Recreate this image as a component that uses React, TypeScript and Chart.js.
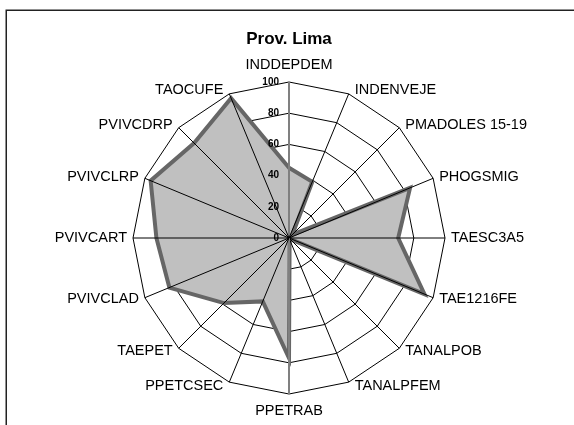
import React, { useEffect, useRef } from 'react';
import { Chart, registerables } from 'chart.js';

Chart.register(...registerables);

const categories = [
  'INDDEPDEM', 'INDENVEJE', 'PMADOLES 15-19', 'PHOGSMIG', 'TAESC3A5', 'TAE1216FE',
  'TANALPOB', 'TANALPFEM', 'PPETRAB', 'PPETCSEC', 'TAEPET', 'PVIVCLAD',
  'PVIVCART', 'PVIVCLRP', 'PVIVCDRP', 'TAOCUFE',
];
const values = [45, 39, 3, 84, 70, 94, 1, 1, 77, 44, 59, 83, 85, 96, 86, 97];
const tickValues = [0, 20, 40, 60, 80, 100];
const titleText = 'Prov. Lima';

const FONT = "'Liberation Sans', Arial, sans-serif";

const overlayPlugin = {
  id: 'overlay',
  beforeDraw(chart: any) {
    const ctx = chart.ctx;
    ctx.save();
    ctx.fillStyle = '#ffffff';
    ctx.fillRect(0, 0, chart.width, chart.height);
    ctx.strokeStyle = '#222';
    ctx.lineWidth = 1.5;
    ctx.beginPath();
    ctx.moveTo(6.25, chart.height + 2);
    ctx.lineTo(6.25, 10.25);
    ctx.lineTo(chart.width + 2, 10.25);
    ctx.stroke();
    ctx.restore();
  },
  afterDatasetsDraw(chart: any) {
    const scale = chart.scales.r;
    const ctx = chart.ctx;
    const n = categories.length;
    const R = scale.drawingArea;
    const cx = scale.xCenter;
    const cy = scale.yCenter;
    ctx.save();
    // spokes
    for (let i = 0; i < n; i++) {
      const p = scale.getPointPosition(i, R);
      const vertical = i === 0 || i === n / 2;
      ctx.strokeStyle = vertical ? '#808080' : '#000';
      ctx.lineWidth = vertical ? 2 : 1;
      ctx.beginPath();
      ctx.moveTo(cx, cy);
      ctx.lineTo(p.x, p.y);
      ctx.stroke();
    }
    // category labels
    ctx.font = `14.5px ${FONT}`;
    ctx.fillStyle = '#000';
    ctx.textBaseline = 'middle';
    for (let i = 0; i < n; i++) {
      const angle = (i / n) * Math.PI * 2;
      const p = scale.getPointPosition(i, R);
      const s = Math.sin(angle);
      const c = Math.cos(angle);
      let x = p.x;
      let y = p.y;
      if (Math.abs(s) < 1e-6) {
        ctx.textAlign = 'center';
        y = p.y + (c > 0 ? -17 : 17);
      } else {
        ctx.textAlign = s > 0 ? 'left' : 'right';
        x = p.x + (s > 0 ? 6 : -6);
        y = p.y - 4 * c;
      }
      ctx.fillText(categories[i], x, y);
    }
    // tick labels
    ctx.font = `bold 10px ${FONT}`;
    ctx.textAlign = 'right';
    for (const v of tickValues) {
      const d = scale.getDistanceFromCenterForValue(v);
      ctx.fillText(String(v), cx - 10, cy - d);
    }
    ctx.restore();
  },
};

export default function App() {
  const ref = useRef<HTMLCanvasElement | null>(null);
  useEffect(() => {
    if (!ref.current) return;
    const chart = new Chart(ref.current, {
      type: 'radar',
      data: {
        labels: categories,
        datasets: [
          {
            data: values,
            backgroundColor: '#c0c0c0',
            borderColor: '#666666',
            borderWidth: 4,
            pointRadius: 0,
            fill: true,
          },
        ],
      },
      options: {
        responsive: false,
        animation: false,
        devicePixelRatio: 1,
        layout: { padding: { top: 29, left: 133, right: 129, bottom: 31 } },
        plugins: {
          legend: { display: false },
          tooltip: { enabled: false },
          title: {
            display: true,
            text: titleText,
            color: '#000',
            font: { family: FONT, size: 17, weight: 'bold' },
            padding: { top: 0, bottom: 32.6 },
          },
        },
        scales: {
          r: {
            min: 0,
            max: 100,
            startAngle: 0,
            ticks: { stepSize: 20, display: false },
            grid: { color: '#000', lineWidth: 1 },
            angleLines: { display: false },
            pointLabels: { display: false },
          },
        },
      },
      plugins: [overlayPlugin],
    } as any);
    return () => chart.destroy();
  }, []);
  return (
    <div style={{ position: 'fixed', left: 0, top: 0, width: 574, height: 425, background: '#fff' }}>
      <canvas ref={ref} width={574} height={425} style={{ display: 'block' }} />
    </div>
  );
}
